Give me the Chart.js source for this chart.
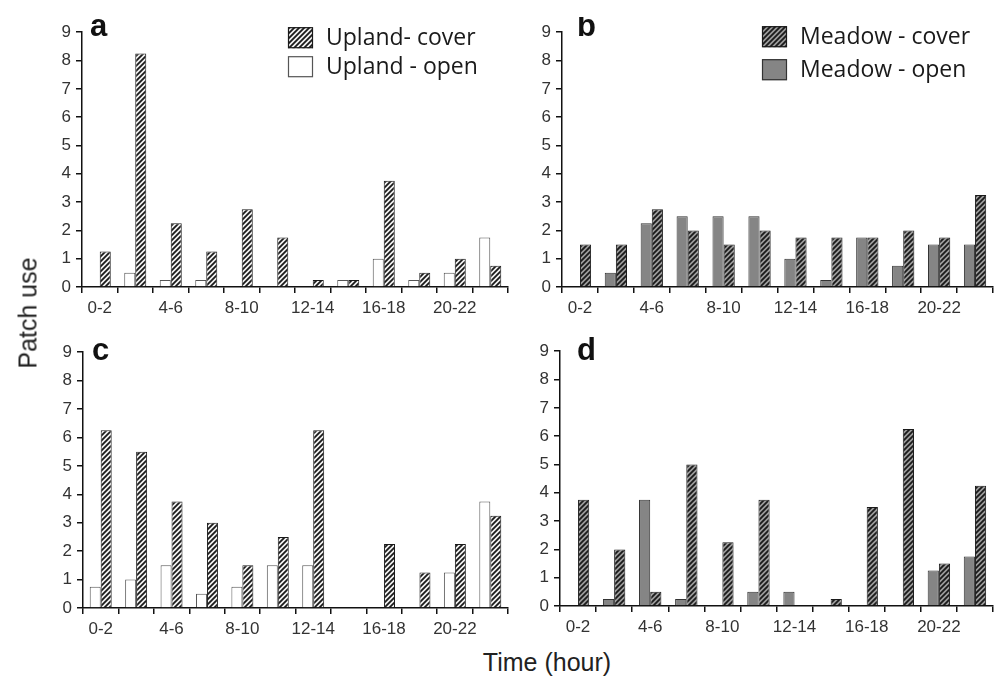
<!DOCTYPE html>
<html lang="en">
<head>
    <meta charset="UTF-8">
    <title>Patch use by time of day</title>
    <style>
        body { margin: 0; background: #fff; }
        #page { position: relative; width: 996px; height: 678px; overflow: hidden; }
        canvas { position: absolute; }
        .axis-title { position: absolute; font-family: "Liberation Sans", Arial, sans-serif; font-size: 25px; color: #222; white-space: nowrap; }
    </style>
</head>
<body>

<div id="page">
    <canvas id="panelA" width="471" height="305" style="left:40px; top:17px;"></canvas>
    <canvas id="panelB" width="476" height="305" style="left:520px; top:17px;"></canvas>
    <canvas id="panelC" width="471" height="306" style="left:40px; top:337px;"></canvas>
    <canvas id="panelD" width="478" height="305" style="left:518px; top:336px;"></canvas>
    <div class="axis-title" style="left:28px; top:313px; transform: translate(-50%, -50%) rotate(-90deg);">Patch use</div>
    <div class="axis-title" style="left:547px; top:662px; transform: translate(-50%, -50%);">Time (hour)</div>
</div>

<script src="https://cdn.jsdelivr.net/npm/chart.js@4.4.1/dist/chart.umd.min.js"></script>
<script>

// two-hour bins, only every other one gets a label on the axis
var hourBins = ['0-2', '2-4', '4-6', '6-8', '8-10', '10-12', '12-14', '14-16', '16-18', '18-20', '20-22', '22-24'];

// a: upland, first period
var openA  = [0, 0.5, 0.25, 0.25, 0, 0, 0, 0.25, 1, 0.25, 0.5, 1.75];
var coverA = [1.25, 8.25, 2.25, 1.25, 2.75, 1.75, 0.25, 0.25, 3.75, 0.5, 1, 0.75];

// b: meadow, first period
var openB  = [0, 0.5, 2.25, 2.5, 2.5, 2.5, 1, 0.25, 1.75, 0.75, 1.5, 1.5];
var coverB = [1.5, 1.5, 2.75, 2, 1.5, 2, 1.75, 1.75, 1.75, 2, 1.75, 3.25];

// c: upland, second period
var openC  = [0.75, 1, 1.5, 0.5, 0.75, 1.5, 1.5, 0, 0, 0, 1.25, 3.75];
var coverC = [6.25, 5.5, 3.75, 3, 1.5, 2.5, 6.25, 0, 2.25, 1.25, 2.25, 3.25];

// d: meadow, second period
var openD  = [0, 0.25, 3.75, 0.25, 0, 0.5, 0.5, 0, 0, 0, 1.25, 1.75];
var coverD = [3.75, 2, 0.5, 5, 2.25, 3.75, 0, 0.25, 3.5, 6.25, 1.5, 4.25];

var yMax = 9;

var tickFont = { family: '"Liberation Sans", Arial, sans-serif', size: 17 };

function makeHatch(bg, line) {
    var size = 5;
    var c = document.createElement('canvas');
    c.width = size;
    c.height = size;
    var g = c.getContext('2d');
    g.fillStyle = bg;
    g.fillRect(0, 0, size, size);
    g.strokeStyle = line;
    g.lineWidth = 1.8;
    g.beginPath();
    g.moveTo(-1, size + 1); g.lineTo(size + 1, -1);
    g.moveTo(-1, 1); g.lineTo(1, -1);
    g.moveTo(size - 1, size + 1); g.lineTo(size + 1, size - 1);
    g.stroke();
    return g.createPattern(c, 'repeat');
}

// panel letter and the in-plot legend
var panelDecor = {
    id: 'panelDecor',
    afterDraw: function(chart, args, opts) {
        var ctx = chart.ctx;
        var area = chart.chartArea;
        ctx.save();
        ctx.fillStyle = '#111';
        ctx.font = 'bold 31px "Liberation Sans", Arial, sans-serif';
        ctx.textBaseline = 'alphabetic';
        ctx.fillText(opts.letter, area.left + opts.letterDx, area.top + opts.letterDy);

        if (opts.legend) {
            var lg = opts.legend;
            var sets = chart.data.datasets.slice().reverse();
            ctx.font = '23px "Open Sans", sans-serif';
            ctx.textBaseline = 'middle';
            sets.forEach(function(ds, i) {
                var x = area.left + lg.dx;
                var y = area.top + lg.dy + i * lg.gap;
                ctx.fillStyle = ds.backgroundColor;
                ctx.fillRect(x, y, 25, 21);
                ctx.lineWidth = 1.2;
                ctx.strokeStyle = ds.borderColor;
                ctx.strokeRect(x + 0.5, y + 0.5, 24, 20);
                ctx.fillStyle = '#1a1a1a';
                ctx.fillText(ds.label, x + 38, y + 11);
            });
        }
        ctx.restore();
    }
};

function drawPanel(id, open, cover, look) {
    var ctx = document.getElementById(id).getContext('2d');
    return new Chart(ctx, {
        type: 'bar',
        data: {
            labels: hourBins,
            datasets: [
                {
                    label: look.openLabel,
                    data: open,
                    backgroundColor: look.openFill,
                    borderColor: look.openEdge,
                    borderWidth: 1
                },
                {
                    label: look.coverLabel,
                    data: cover,
                    backgroundColor: look.coverFill,
                    borderColor: '#1a1a1a',
                    borderWidth: 1
                }
            ]
        },
        options: {
            responsive: false,
            animation: false,
            events: [],
            layout: { padding: { top: 15, right: 3, left: 0, bottom: 0 } },
            datasets: { bar: { categoryPercentage: 0.62, barPercentage: 1 } },
            plugins: {
                legend: { display: false },
                tooltip: { enabled: false },
                panelDecor: look.decor
            },
            scales: {
                x: {
                    offset: true,
                    grid: { offset: true, drawOnChartArea: false, drawTicks: true, tickLength: 6, color: '#111', lineWidth: 1.5 },
                    border: { display: true, color: '#111', width: 1.5 },
                    ticks: {
                        autoSkip: false,
                        maxRotation: 0,
                        color: '#333',
                        font: tickFont,
                        padding: 5,
                        callback: function(v, i) { return i % 2 === 0 ? hourBins[i] : ''; }
                    },
                    afterFit: function(s) { s.height = 35; }
                },
                y: {
                    min: 0,
                    max: yMax,
                    grid: { drawOnChartArea: false, drawTicks: true, tickLength: 6, color: '#111', lineWidth: 1.5 },
                    border: { display: true, color: '#111', width: 1.5 },
                    ticks: { stepSize: 1, color: '#333', font: tickFont, padding: 5 },
                    afterFit: function(s) { s.width = look.yWidth; }
                }
            }
        },
        plugins: [panelDecor]
    });
}

var uplandLook = {
    openLabel: 'Upland - open',
    coverLabel: 'Upland- cover',
    openFill: '#ffffff',
    openEdge: '#555555',
    coverFill: makeHatch('#f2f2f2', '#1a1a1a')
};

var meadowLook = {
    openLabel: 'Meadow - open',
    coverLabel: 'Meadow - cover',
    openFill: '#858585',
    openEdge: '#333333',
    coverFill: makeHatch('#9c9c9c', '#1a1a1a')
};

drawPanel('panelA', openA, coverA, Object.assign({}, uplandLook, {
    yWidth: 42,
    decor: { letter: 'a', letterDx: 8, letterDy: 4, legend: { dx: 206, dy: -5, gap: 29 } }
}));
drawPanel('panelB', openB, coverB, Object.assign({}, meadowLook, {
    yWidth: 42,
    decor: { letter: 'b', letterDx: 15, letterDy: 4, legend: { dx: 200, dy: -6, gap: 33 } }
}));
drawPanel('panelC', openC, coverC, Object.assign({}, uplandLook, {
    yWidth: 43,
    decor: { letter: 'c', letterDx: 9, letterDy: 8 }
}));
drawPanel('panelD', openD, coverD, Object.assign({}, meadowLook, {
    yWidth: 42,
    decor: { letter: 'd', letterDx: 17, letterDy: 9 }
}));
</script>
</body>
</html>
